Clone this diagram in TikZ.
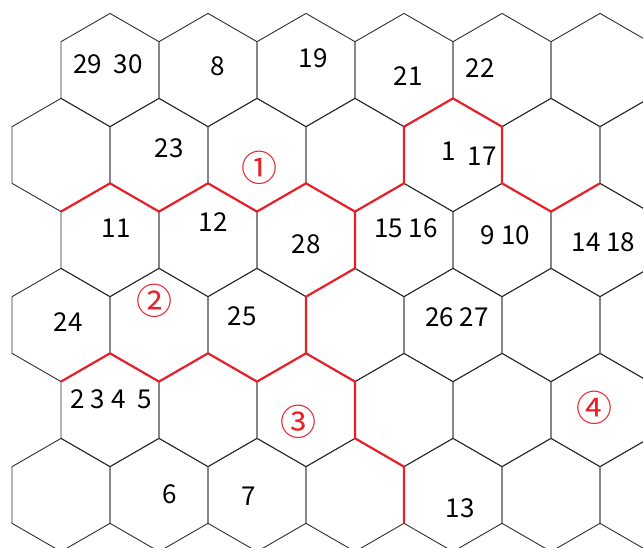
\documentclass[tikz,border=0pt]{standalone}
\usepackage{fontspec}
\setmainfont{Noto Sans CJK SC}
\usetikzlibrary{calc}
\definecolor{gridline}{HTML}{2E2E2E}
\definecolor{zonered}{HTML}{E8202A}
\tikzset{
  hexcell/.style={draw=gridline,line width=0.9pt},
  zoneborder/.style={draw=zonered,line width=2.2pt,line join=round},
  numlabel/.style={font=\fontsize{26}{26}\selectfont,text=black,inner sep=0pt},
  zonelabel/.style={font=\fontsize{36}{36}\selectfont,text=zonered,inner sep=0pt}
}

\begin{document}
\begin{tikzpicture}[x=1pt,y=-1pt]
  \useasboundingbox (0,0) rectangle (643,547);
  \clip (0,0) rectangle (643,547);

  % hexagon grid
  \foreach \r in {0,...,5}{
    \pgfmathsetmacro{\cy}{70+85*\r}
    \pgfmathsetmacro{\xo}{mod(\r,2)==1 ? 61 : 110}
    \foreach \k in {0,...,6}{
      \pgfmathsetmacro{\cx}{\xo+98*\k}
      \draw[hexcell] (\cx,\cy-56.6) -- ++(49,28.3) -- ++(0,56.6) -- ++(-49,28.3)
        -- ++(-49,-28.3) -- ++(0,-56.6) -- cycle;
    }
  }

  % zone borders
  \draw[zoneborder] (61,211.6) -- (110,183.3) -- (159,211.6) -- (208,183.3) -- (257,211.6)
    -- (306,183.3) -- (355,211.6) -- (404,183.3) -- (404,126.7) -- (453,98.4) -- (502,126.7)
    -- (502,183.3) -- (551,211.6) -- (600,183.3);
  \draw[zoneborder] (355,211.6) -- (355,268.3) -- (306,296.7) -- (306,353.3) -- (257,381.6)
    -- (208,353.3) -- (159,381.6) -- (110,353.3) -- (61,381.6);
  \draw[zoneborder] (306,353.3) -- (355,381.6) -- (355,438.3) -- (404,466.7) -- (404,523.3);

  % cell numbers
  \node[numlabel] (c2930) at (108,64.5) {29\ \ 30};
  \node[numlabel] (c8) at (217.5,66.5) {8};
  \node[numlabel] (c19) at (313,58) {19};
  \node[numlabel] (c21) at (408,76) {21};
  \node[numlabel] (c22) at (480,68.5) {22};
  \node[numlabel] (c23) at (169,148.5) {23};
  \node[numlabel] (c1) at (448.5,151) {1};
  \node[numlabel] (c17) at (482,156) {17};
  \node[numlabel] (c11) at (116,228) {11};
  \node[numlabel] (c12) at (213,222.5) {12};
  \node[numlabel] (c28) at (306,244.5) {28};
  \node[numlabel] (c1516) at (406,228) {15 16};
  \node[numlabel] (c910) at (505.5,235.5) {9 10};
  \node[numlabel] (c1418) at (603.5,242) {14 18};
  \node[numlabel] (c24) at (68,322) {24};
  \node[numlabel] (c25) at (242,316) {25};
  \node[numlabel] (c2627) at (457,317.5) {26 27};
  \node[numlabel] (c2345) at (111,399) {2 3 4\ \ 5};
  \node[numlabel] (c6) at (170,494) {6};
  \node[numlabel] (c7) at (249,496) {7};
  \node[numlabel] (c13) at (460,508.5) {13};

  % zone marks
  \node[zonelabel] (zone1) at (259,168) {①};
  \node[zonelabel] (zone2) at (154,301) {②};
  \node[zonelabel] (zone3) at (298,421.5) {③};
  \node[zonelabel] (zone4) at (594,407.5) {④};
\end{tikzpicture}
\end{document}
